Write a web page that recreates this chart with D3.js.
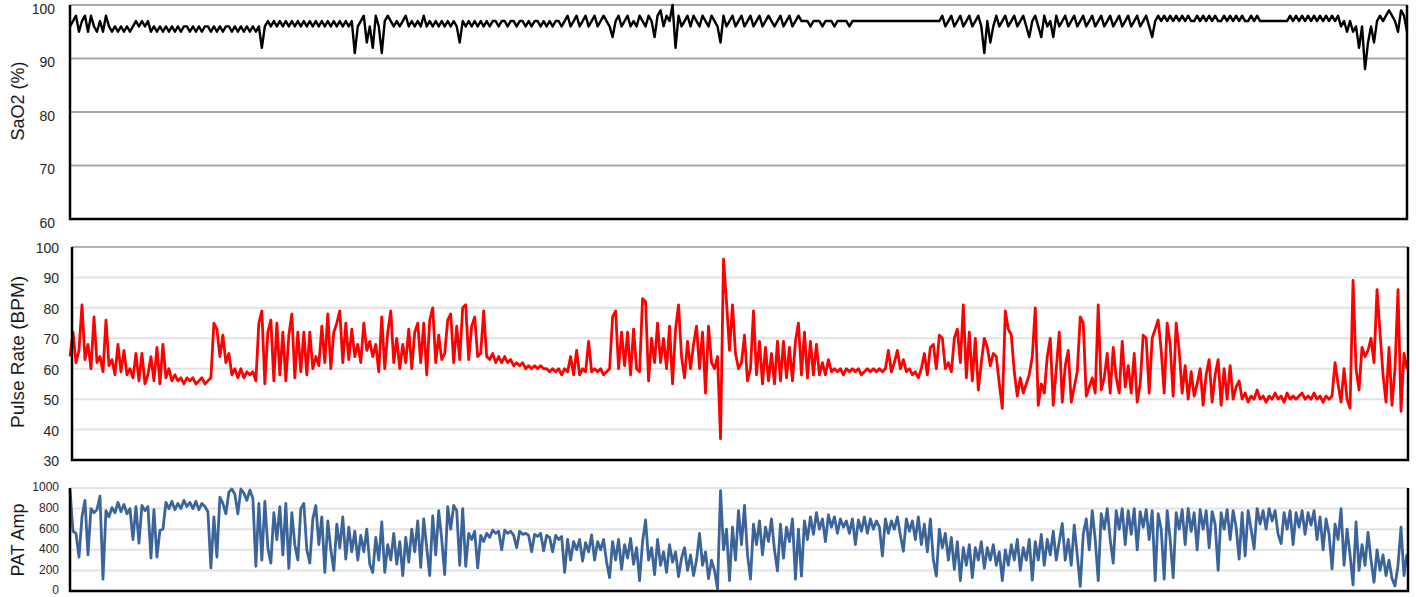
<html>
<head>
    <script src="https://cdnjs.cloudflare.com/ajax/libs/d3/7.8.5/d3.min.js"></script>
    <style>
        body { margin: 0; background: #fff; }
        text { font-family: "Liberation Sans", Arial, sans-serif; }
    </style>
</head>
<body>
<svg id="chart"></svg>

<script>

    // one sample every step
    var saoValues = [
        96, 97, 98, 95, 97, 98, 95, 98, 96, 95,
        97, 95, 98, 96, 95, 96, 95, 96, 95, 96,
        95, 96, 97, 96, 97, 96, 97, 95, 96, 95,
        96, 95, 96, 95, 96, 95, 96, 95, 96, 96,
        95, 96, 95, 96, 95, 96, 96, 95, 96, 95,
        96, 95, 96, 96, 95, 96, 95, 96, 95, 96,
        95, 96, 95, 96, 92, 96, 97, 96, 97, 96,
        97, 96, 97, 96, 97, 96, 97, 96, 97, 96,
        97, 96, 97, 96, 97, 96, 97, 96, 97, 96,
        97, 96, 97, 96, 97, 91, 96, 97, 98, 93,
        96, 92, 98, 96, 91, 97, 98, 97, 96, 97,
        96, 97, 98, 96, 97, 96, 97, 96, 98, 96,
        97, 96, 97, 96, 97, 96, 97, 96, 97, 96,
        93, 97, 96, 97, 96, 97, 96, 97, 96, 97,
        96, 97, 97, 96, 97, 97, 96, 97, 97, 96,
        97, 97, 96, 97, 96, 97, 97, 96, 97, 96,
        97, 96, 97, 97, 96, 97, 98, 96, 97, 98,
        96, 97, 98, 96, 97, 98, 96, 97, 98, 97,
        96, 94, 97, 98, 96, 97, 98, 96, 97, 96,
        98, 97, 96, 98, 97, 94, 98, 99, 96, 98,
        97, 100, 92, 98, 96, 97, 98, 96, 98, 97,
        96, 98, 97, 96, 98, 97, 96, 93, 98, 96,
        97, 98, 96, 97, 98, 96, 97, 98, 96, 97,
        98, 96, 97, 98, 97, 96, 97, 98, 96, 97,
        98, 96, 97, 98, 97, 97, 97, 96, 97, 97,
        97, 96, 97, 97, 97, 96, 97, 97, 97, 97,
        96, 97, 97, 97, 97, 97, 97, 97, 97, 97,
        97, 97, 97, 97, 97, 97, 97, 97, 97, 97,
        97, 97, 97, 97, 97, 97, 97, 97, 97, 97,
        97, 98, 96, 97, 98, 96, 97, 98, 96, 97,
        98, 96, 97, 98, 96, 91, 97, 93, 96, 98,
        96, 97, 98, 96, 97, 98, 96, 97, 98, 96,
        94, 97, 98, 96, 94, 98, 96, 97, 94, 98,
        96, 97, 98, 96, 97, 98, 96, 97, 98, 96,
        97, 98, 96, 97, 98, 96, 97, 98, 96, 97,
        98, 96, 97, 98, 96, 97, 98, 96, 97, 98,
        96, 94, 97, 98, 97, 98, 97, 98, 97, 98,
        97, 98, 97, 98, 97, 97, 98, 97, 98, 97,
        98, 97, 98, 97, 97, 98, 97, 98, 97, 98,
        97, 98, 97, 97, 98, 97, 98, 97, 97, 97,
        97, 97, 97, 97, 97, 97, 97, 98, 97, 98,
        97, 98, 97, 98, 97, 98, 97, 98, 97, 98,
        97, 98, 97, 98, 96, 97, 95, 97, 95, 96,
        92, 96, 88, 93, 96, 93, 97, 98, 97, 98,
        99, 98, 97, 95, 99, 98, 95
    ];

    var pulseValues = [
        64, 72, 62, 66, 81, 63, 68, 60, 77, 62,
        64, 59, 76, 61, 63, 58, 68, 59, 66, 58,
        60, 57, 65, 56, 65, 55, 58, 64, 56, 67,
        55, 68, 57, 60, 56, 58, 56, 57, 55, 57,
        56, 57, 55, 56, 57, 55, 56, 57, 75, 73,
        64, 71, 62, 65, 58, 60, 57, 60, 57, 59,
        58, 59, 56, 75, 79, 55, 72, 76, 56, 75,
        58, 72, 56, 71, 78, 57, 72, 59, 72, 58,
        72, 60, 64, 61, 74, 62, 78, 60, 72, 75,
        79, 62, 75, 63, 73, 64, 68, 62, 75, 66,
        69, 64, 68, 59, 77, 60, 72, 79, 62, 70,
        60, 68, 62, 73, 60, 72, 75, 62, 75, 58,
        76, 80, 62, 71, 63, 65, 76, 78, 62, 74,
        63, 80, 81, 63, 74, 77, 64, 65, 79, 64,
        63, 65, 62, 64, 62, 64, 62, 63, 61, 62,
        61, 62, 60, 61, 60, 61, 60, 61, 60, 60,
        59, 60, 59, 60, 58, 60, 59, 64, 58, 66,
        58, 60, 59, 69, 59, 60, 59, 60, 58, 59,
        60, 77, 79, 60, 72, 61, 72, 58, 73, 60,
        59, 83, 82, 56, 70, 62, 75, 62, 70, 60,
        74, 55, 73, 81, 64, 57, 69, 60, 68, 74,
        60, 72, 52, 74, 62, 60, 64, 37, 96, 82,
        66, 81, 65, 60, 62, 71, 56, 60, 79, 58,
        69, 55, 67, 56, 65, 55, 69, 56, 69, 57,
        67, 56, 69, 75, 58, 72, 57, 69, 58, 68,
        58, 62, 58, 63, 59, 60, 59, 60, 58, 60,
        59, 60, 59, 60, 58, 59, 60, 59, 60, 59,
        60, 59, 60, 66, 59, 62, 66, 60, 63, 59,
        60, 58, 59, 57, 60, 65, 58, 67, 68, 60,
        71, 70, 60, 62, 59, 70, 73, 62, 81, 57,
        72, 56, 70, 53, 62, 70, 67, 61, 65, 64,
        55, 47, 79, 73, 71, 59, 51, 57, 52, 55,
        58, 64, 80, 48, 55, 52, 64, 70, 48, 60,
        72, 49, 61, 66, 49, 54, 59, 77, 75, 51,
        54, 57, 52, 81, 53, 57, 65, 52, 67, 57,
        52, 69, 54, 61, 52, 65, 49, 55, 71, 70,
        52, 70, 73, 76, 66, 52, 75, 68, 51, 75,
        66, 52, 61, 50, 59, 51, 55, 60, 48, 58,
        63, 49, 58, 63, 48, 60, 50, 61, 50, 54,
        56, 50, 52, 49, 51, 50, 53, 50, 51, 49,
        51, 50, 52, 50, 51, 49, 52, 50, 51, 50,
        51, 52, 50, 51, 50, 52, 50, 51, 49, 51,
        50, 51, 62, 55, 49, 60, 50, 47, 89, 60,
        53, 67, 64, 66, 70, 62, 86, 72, 58, 49,
        67, 48, 60, 86, 46, 65, 60
    ];

    var patValues = [
        980, 580, 560, 330, 720, 880, 350, 800, 760, 790,
        920, 115, 780, 720, 810, 760, 860, 770, 840, 750,
        800, 500, 820, 465, 830, 780, 820, 320, 790, 330,
        590, 600, 860, 800, 870, 790, 850, 800, 880, 820,
        860, 800, 870, 790, 850, 820, 770, 225, 720, 330,
        910, 850, 750, 960, 990, 940, 750, 990, 950, 880,
        980, 900, 240, 850, 300, 870, 420, 270, 760, 500,
        820, 350, 850, 220, 760, 450, 300, 800, 850, 400,
        270, 700, 830, 450, 720, 180, 680, 400, 200, 650,
        420, 720, 310, 620, 380, 580, 300, 540, 380, 600,
        260, 180, 520, 300, 670, 180, 450, 300, 560, 260,
        480, 150, 520, 280, 600, 380, 680, 230, 700, 420,
        150, 730, 350, 780, 500, 160, 820, 600, 830, 780,
        250, 800, 240, 560, 500, 580, 225, 540, 480, 560,
        520, 590, 560, 580, 400, 590, 560, 580, 540, 420,
        580, 550, 560, 540, 380, 550, 530, 560, 390, 540,
        520, 380, 540, 500, 530, 180, 500, 300, 480, 400,
        500, 290, 470, 380, 545, 300, 480, 400, 500, 280,
        130, 480, 300, 500, 210, 450, 320, 510, 260, 420,
        100, 480, 690, 300, 420, 160, 500, 250, 380, 180,
        450, 280, 380, 140, 320, 420, 200, 350, 150, 300,
        560, 250, 380, 120, 300, 200, 20, 975, 400, 600,
        100, 620, 300, 780, 450, 830, 350, 115, 650, 450,
        680, 350, 620, 480, 700, 400, 195, 650, 320, 620,
        480, 700, 115, 600, 145, 680, 500, 720, 550, 760,
        600, 700, 480, 740, 620, 720, 560, 700, 620, 680,
        560, 700, 450, 690, 580, 720, 560, 700, 600, 680,
        620, 340, 700, 560, 680, 600, 720, 540, 385, 700,
        580, 680, 500, 720, 450, 650, 380, 700, 300, 145,
        600, 420, 560, 300, 520, 210, 480, 100, 420, 250,
        450, 130, 420, 300, 480, 220, 420, 300, 450, 250,
        380, 100, 400, 250, 450, 300, 500, 200, 420, 300,
        500, 105, 480, 300, 550, 250, 500, 350, 580, 300,
        480, 655, 300, 500, 250, 640, 350, 45, 550, 700,
        400, 780, 500, 100, 750, 600, 800, 500, 270, 780,
        600, 800, 450, 780, 550, 800, 400, 770, 620, 790,
        500, 780, 100, 750, 600, 115, 780, 500, 130, 760,
        600, 790, 450, 800, 580, 760, 400, 790, 600, 780,
        420, 770, 650, 200, 760, 600, 790, 500, 780, 620,
        310, 760, 340, 780, 600, 410, 800, 650, 780, 600,
        800, 680, 780, 550, 460, 760, 600, 780, 450, 760,
        620, 780, 550, 760, 640, 780, 500, 720, 400, 700,
        550, 215, 650, 500, 800, 250, 600, 350, 60, 670,
        200, 450, 250, 570, 300, 85, 400, 200, 350, 150,
        300, 120, 50, 250, 620, 150, 360
    ];

    var saoTicks = [60, 70, 80, 90, 100];
    var pulseTicks = [30, 40, 50, 60, 70, 80, 90, 100];
    var patTicks = [0, 200, 400, 600, 800, 1000];

    var width = 1416,
        height = 597;

    var svg = d3.select("#chart")
        .attr("width", width)
        .attr("height", height);

    function drawPanel(p) {
        var g = svg.append("g");

        var x = d3.scaleLinear()
            .domain([0, p.values.length - 1])
            .range([70, 1407]);

        var y = d3.scaleLinear()
            .domain([p.ticks[0], p.ticks[p.ticks.length - 1]])
            .range([p.bottom, p.top]);

        // gridlines
        g.append("g")
            .selectAll("line")
            .data(p.ticks.slice(1))
            .enter().append("line")
            .attr("x1", p.left)
            .attr("x2", p.right)
            .attr("y1", function(d) { return y(d); })
            .attr("y2", function(d) { return y(d); })
            .attr("stroke", function(d, i) { return i === p.ticks.length - 2 ? p.topColor : p.gridColor; })
            .attr("stroke-width", 2);

        // tick labels only, no tick marks
        var axis = g.append("g")
            .attr("transform", "translate(" + p.left + ",0)")
            .call(d3.axisLeft(y).tickValues(p.ticks).tickSize(0).tickPadding(p.pad).tickFormat(d3.format("d")));
        axis.select(".domain").remove();
        axis.selectAll("text")
            .attr("fill", "#262626")
            .style("font-size", p.fontSize + "px")
            .attr("transform", "translate(0," + p.shift + ")");

        var line = d3.line()
            .x(function(d, i) { return x(i); })
            .y(function(d) { return y(d); });

        g.append("path")
            .datum(p.values)
            .attr("d", line)
            .attr("fill", "none")
            .attr("stroke", p.color)
            .attr("stroke-width", p.lineWidth)
            .attr("stroke-linejoin", "round");

        // black frame on left, bottom and right
        g.append("path")
            .attr("d", "M" + p.left + "," + p.top + "V" + p.bottom + "H" + p.right + "V" + p.top)
            .attr("fill", "none")
            .attr("stroke", "#000")
            .attr("stroke-width", 2.5);

        g.append("text")
            .attr("transform", "translate(" + 24 + "," + p.titleY + ") rotate(-90)")
            .attr("text-anchor", "middle")
            .attr("fill", "#1a1a1a")
            .style("font-size", p.titleSize + "px")
            .text(p.title);
    }

    drawPanel({
        values: saoValues, ticks: saoTicks, title: "SaO2 (%)",
        left: 70, right: 1407, top: 5, bottom: 219,
        color: "#000", lineWidth: 2.4,
        gridColor: "#a8a8a8", topColor: "#a8a8a8",
        pad: 15, shift: 4, fontSize: 14, titleY: 101, titleSize: 18
    });

    drawPanel({
        values: pulseValues, ticks: pulseTicks, title: "Pulse Rate (BPM)",
        left: 72, right: 1408, top: 247, bottom: 460,
        color: "#ff0000", lineWidth: 2.8,
        gridColor: "#e3e3e3", topColor: "#b3b3b3",
        pad: 13, shift: 1, fontSize: 14, titleY: 352, titleSize: 19
    });

    drawPanel({
        values: patValues, ticks: patTicks, title: "PAT Amp",
        left: 70, right: 1408, top: 488, bottom: 591,
        color: "#3b659a", lineWidth: 2.8,
        gridColor: "#e3e3e3", topColor: "#e3e3e3",
        pad: 11, shift: -1, fontSize: 12, titleY: 540, titleSize: 18
    });

</script>

</body>
</html>
